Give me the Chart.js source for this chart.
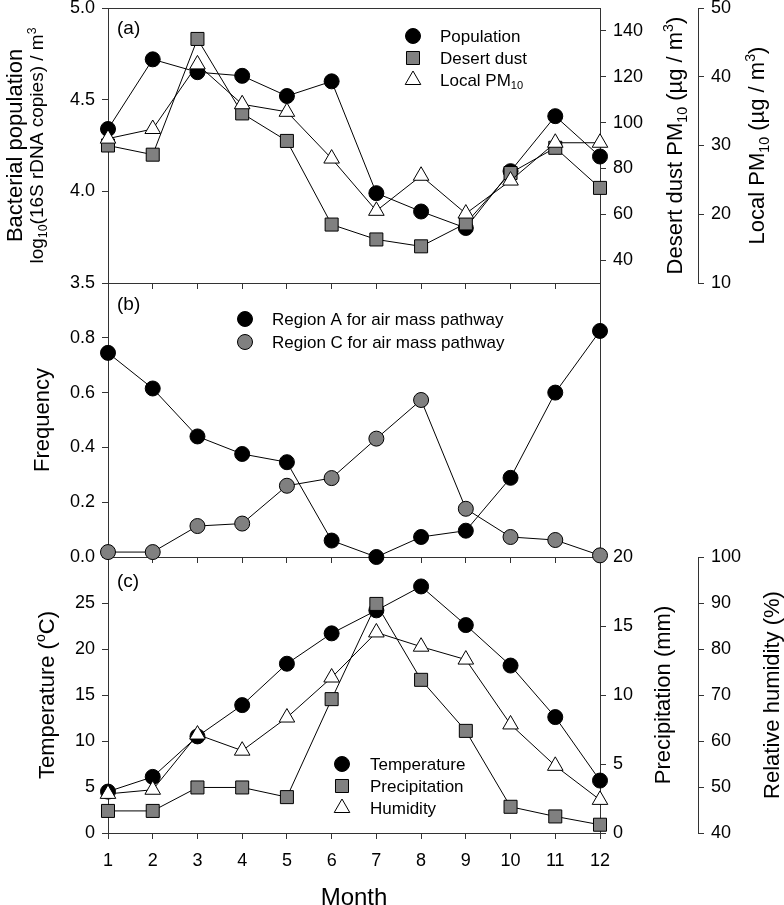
<!DOCTYPE html>
<html>
<head>
<meta charset="utf-8">
<script src="https://cdn.jsdelivr.net/npm/chart.js@4.4.1/dist/chart.umd.min.js"></script>
<style>
  body { margin: 0; background: #fff; }
  #wrap { position: relative; width: 784px; height: 905px; }
  #wrap canvas { position: absolute; left: 0; top: 0; }
</style>
</head>
<body>
<div id="wrap">
  <canvas id="chartA" width="784" height="905"></canvas>
  <canvas id="chartC" width="784" height="905"></canvas>
  <canvas id="chartB" width="784" height="905"></canvas>
</div>
<script>
const months = [1, 2, 3, 4, 5, 6, 7, 8, 9, 10, 11, 12];

// (a) bacterial population and PM10
const population = [4.34, 4.72, 4.65, 4.63, 4.52, 4.60, 3.99, 3.89, 3.80, 4.11, 4.41, 4.19];
const desertDust = [90, 86, 136.5, 104, 92, 55.5, 49, 46, 56, 78, 89, 71.5];
const localPM10 = [31.0, 32.4, 41.8, 36.0, 34.9, 28.1, 20.5, 25.6, 20.1, 24.9, 30.4, 30.4];

// (b) air mass pathway frequency
const regionA = [0.745, 0.615, 0.44, 0.376, 0.346, 0.06, 0.0, 0.073, 0.096, 0.289, 0.60, 0.825];
const regionC = [0.018, 0.018, 0.113, 0.122, 0.26, 0.288, 0.432, 0.573, 0.176, 0.073, 0.062, 0.006];

// (c) weather
const temperature = [4.5, 6.1, 10.5, 13.9, 18.4, 21.7, 24.2, 26.8, 22.6, 18.2, 12.6, 5.7];
const precipitation = [1.6, 1.6, 3.3, 3.3, 2.6, 9.7, 16.6, 11.1, 7.4, 1.9, 1.2, 0.6];
const humidity = [48.5, 49.4, 61.4, 57.9, 65.1, 73.8, 83.6, 80.5, 77.7, 63.6, 54.6, 47.2];

// tick labels
const populationTicks = [3.5, 4.0, 4.5, 5.0];
const dustTicks = [40, 60, 80, 100, 120, 140];
const pm10Ticks = [10, 20, 30, 40, 50];
const frequencyTicks = [0, 0.2, 0.4, 0.6, 0.8];
const temperatureTicks = [0, 5, 10, 15, 20, 25];
const precipTicks = [0, 5, 10, 15, 20];
const humidityTicks = [40, 50, 60, 70, 80, 90, 100];

const FONT = "'Liberation Sans', Arial, sans-serif";
const AXIS = '#333';
const GRAY = '#808080';
const TICK_SIZE = 18;

function fixWidth(w) {
  return axis => { axis.width = w; axis.paddingTop = 0; axis.paddingBottom = 0; };
}
function fixHeight(h) {
  return axis => { axis.height = h; axis.paddingLeft = 0; axis.paddingRight = 0; };
}
function setTicks(values) {
  return axis => { axis.ticks = values.map(v => ({ value: v })); };
}

function yAxis(position, min, max, values, width, digits, weight) {
  return {
    type: 'linear', position, min, max, weight,
    afterBuildTicks: setTicks(values),
    afterFit: fixWidth(width),
    border: { display: true, color: AXIS, width: 1 },
    grid: { drawOnChartArea: false, drawTicks: true, tickLength: 6, tickColor: AXIS, tickWidth: 1 },
    ticks: {
      autoSkip: false, color: '#000', padding: 7,
      font: { family: FONT, size: TICK_SIZE },
      callback: v => v.toFixed(digits)
    }
  };
}

function xAxis(height, showLabels) {
  return {
    type: 'linear', position: 'bottom', min: 1, max: 12,
    afterBuildTicks: setTicks(months),
    afterFit: fixHeight(height),
    border: { display: true, color: AXIS, width: 1 },
    grid: { drawOnChartArea: false, drawTicks: true, tickLength: 6, tickColor: AXIS, tickWidth: 1 },
    ticks: { display: showLabels, autoSkip: false, color: '#000', padding: 11, font: { family: FONT, size: TICK_SIZE } }
  };
}

function series(label, values, style, fill, radius, yAxisID, order, labelParts) {
  return {
    label, labelParts, yAxisID, order,
    data: months.map((m, i) => ({ x: m, y: values[i] })),
    borderColor: '#000', borderWidth: 1, tension: 0, fill: false, clip: false,
    pointStyle: style, pointRadius: radius, pointHoverRadius: radius,
    pointBackgroundColor: fill, pointBorderColor: '#000', pointBorderWidth: 1
  };
}

// text with sub/superscripts: parts = [[text, 'sub'|'sup'|undefined], ...]
function drawRich(ctx, parts, size, align) {
  const sizes = parts.map(p => (p[1] ? size * 0.65 : size));
  let total = 0;
  parts.forEach((p, i) => { ctx.font = sizes[i] + 'px ' + FONT; total += ctx.measureText(p[0]).width; });
  let x = align === 'left' ? 0 : -total / 2;
  ctx.textBaseline = 'alphabetic';
  ctx.textAlign = 'left';
  parts.forEach((p, i) => {
    ctx.font = sizes[i] + 'px ' + FONT;
    const dy = p[1] === 'sub' ? size * 0.2 : p[1] === 'sup' ? -size * 0.4 : 0;
    ctx.fillText(p[0], x, size * 0.33 + dy);
    x += ctx.measureText(p[0]).width;
  });
}

const framePlugin = {
  id: 'frame',
  beforeDatasetsDraw(chart, args, opts) {
    const { ctx, chartArea: a } = chart;
    ctx.save();
    ctx.strokeStyle = AXIS;
    ctx.lineWidth = 1;
    ctx.beginPath();
    if (opts.top) { ctx.moveTo(a.left, Math.round(a.top) + 0.5); ctx.lineTo(a.right + 1, Math.round(a.top) + 0.5); }
    if (opts.right) { ctx.moveTo(Math.round(a.right) + 0.5, a.top); ctx.lineTo(Math.round(a.right) + 0.5, a.bottom); }
    ctx.stroke();
    ctx.restore();
  }
};

const textPlugin = {
  id: 'texts',
  afterDraw(chart, args, opts) {
    const { ctx, chartArea: a } = chart;
    const midY = (a.top + a.bottom) / 2;
    ctx.save();
    ctx.fillStyle = '#000';
    (opts.vertical || []).forEach(t => {
      ctx.save();
      ctx.translate(t.x, midY + (t.dy || 0));
      ctx.rotate(-Math.PI / 2);
      drawRich(ctx, t.parts, t.size);
      ctx.restore();
    });
    (opts.horizontal || []).forEach(t => {
      ctx.save();
      ctx.translate(t.x, t.y);
      drawRich(ctx, t.parts, t.size);
      ctx.restore();
    });
    if (opts.panel) {
      ctx.font = '19px ' + FONT;
      ctx.textAlign = 'left';
      ctx.textBaseline = 'middle';
      ctx.fillText(opts.panel.text, a.left + 9, a.top + opts.panel.dy);
    }
    ctx.restore();
  }
};

const legendPlugin = {
  id: 'inlegend',
  afterDraw(chart, args, opts) {
    const ctx = chart.ctx;
    chart.data.datasets.forEach((ds, i) => {
      const y = opts.y + i * opts.gap;
      ctx.save();
      ctx.fillStyle = ds.pointBackgroundColor;
      ctx.strokeStyle = ds.pointBorderColor;
      ctx.lineWidth = 1;
      Chart.helpers.drawPoint(ctx, { pointStyle: ds.pointStyle, radius: ds.pointRadius, borderWidth: 1, rotation: 0 }, opts.x, y);
      ctx.fillStyle = '#000';
      ctx.translate(opts.textX, y);
      drawRich(ctx, ds.labelParts || [[ds.label]], 17, 'left');
      ctx.restore();
    });
  }
};

function baseOptions(padding, scales, plugins) {
  return {
    responsive: false, animation: false, events: [],
    layout: { padding, autoPadding: false },
    plugins: Object.assign({ legend: { display: false }, tooltip: { enabled: false } }, plugins),
    scales
  };
}

const plugins = [framePlugin, textPlugin, legendPlugin];

// panel (a)
new Chart(document.getElementById('chartA'), {
  type: 'line',
  data: {
    datasets: [
      series('Population', population, 'circle', '#000', 7.5, 'y', 3),
      series('Desert dust', desertDust, 'rect', GRAY, 9.2, 'yDust', 2),
      series('Local PM10', localPM10, 'triangle', '#fff', 9, 'yPM', 1, [['Local PM'], ['10', 'sub']])
    ]
  },
  options: baseOptions({ top: 8, bottom: 905 - 283 - 6, left: 0, right: 0 }, {
    x: xAxis(6, false),
    y: yAxis('left', 3.5, 5.0, populationTicks, 108, 1, 0),
    yDust: yAxis('right', 30, 150, dustTicks, 98, 0, 0),
    yPM: yAxis('right', 10, 50, pm10Ticks, 86, 0, 1)
  }, {
    frame: { top: true },
    texts: {
      panel: { text: '(a)', dy: 21 },
      vertical: [
        { x: 15, size: 22, parts: [['Bacterial population']] },
        { x: 37, size: 19, parts: [['log'], ['10', 'sub'], ['(16S rDNA copies) / m'], ['3', 'sup']] },
        { x: 675, size: 22, parts: [['Desert dust PM'], ['10', 'sub'], [' (\u00b5g / m'], ['3', 'sup'], [')']] },
        { x: 757, size: 22, parts: [['Local PM'], ['10', 'sub'], [' (\u00b5g / m'], ['3', 'sup'], [')']] }
      ]
    },
    inlegend: { x: 413, y: 36, gap: 22, textX: 440 }
  }),
  plugins
});

// panel (c)
new Chart(document.getElementById('chartC'), {
  type: 'line',
  data: {
    datasets: [
      series('Temperature', temperature, 'circle', '#000', 7.5, 'y', 3),
      series('Precipitation', precipitation, 'rect', GRAY, 9.2, 'yPrec', 2),
      series('Humidity', humidity, 'triangle', '#fff', 9, 'yHum', 1)
    ]
  },
  options: baseOptions({ top: 557, bottom: 0, left: 0, right: 0 }, {
    x: xAxis(72, true),
    y: yAxis('left', 0, 30, temperatureTicks, 108, 0, 0),
    yPrec: yAxis('right', 0, 20, precipTicks, 98, 0, 0),
    yHum: yAxis('right', 40, 100, humidityTicks, 86, 0, 1)
  }, {
    texts: {
      panel: { text: '(c)', dy: 25 },
      vertical: [
        { x: 47, size: 22, parts: [['Temperature ('], ['o', 'sup'], ['C)']] },
        { x: 663, size: 22, parts: [['Precipitation (mm)']] },
        { x: 772, size: 22, parts: [['Relative humidity (%)']] }
      ],
      horizontal: [
        { x: 354, y: 897, size: 24, parts: [['Month']] }
      ]
    },
    inlegend: { x: 342, y: 764, gap: 22, textX: 370 }
  }),
  plugins
});

// panel (b)
new Chart(document.getElementById('chartB'), {
  type: 'line',
  data: {
    datasets: [
      series('Region A for air mass pathway', regionA, 'circle', '#000', 7.5, 'y', 2),
      series('Region C for air mass pathway', regionC, 'circle', GRAY, 7.5, 'y', 1)
    ]
  },
  options: baseOptions({ top: 283, bottom: 905 - 557 - 6, left: 0, right: 184 }, {
    x: xAxis(6, false),
    y: yAxis('left', 0, 1.0, frequencyTicks, 108, 1, 0)
  }, {
    frame: { right: true },
    texts: {
      panel: { text: '(b)', dy: 22 },
      vertical: [
        { x: 42, size: 22, parts: [['Frequency']] }
      ]
    },
    inlegend: { x: 245, y: 319, gap: 23, textX: 272 }
  }),
  plugins
});
</script>
</body>
</html>
